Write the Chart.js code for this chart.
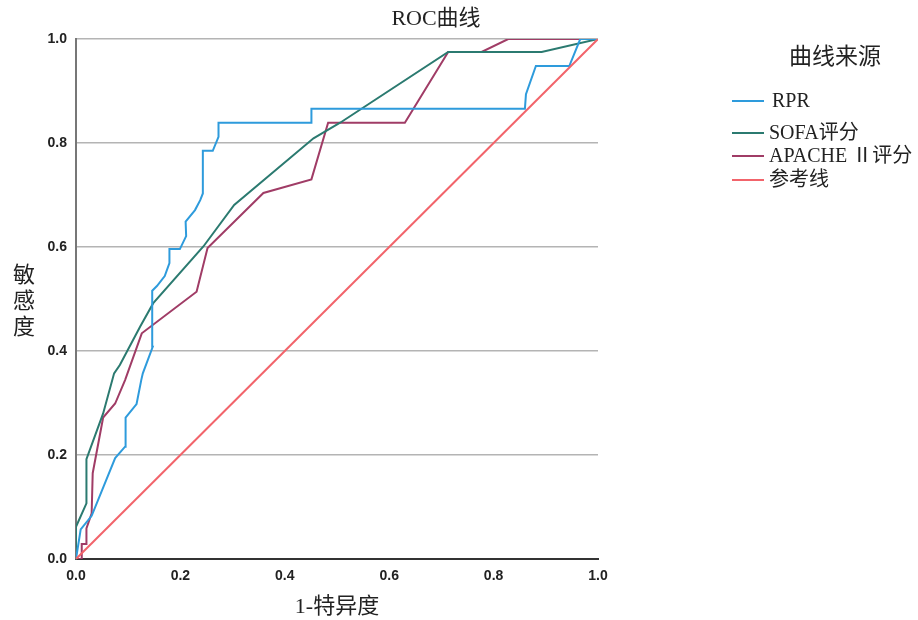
<!DOCTYPE html>
<html>
<head>
<meta charset="utf-8">
<script src="https://cdn.jsdelivr.net/npm/chart.js@4/dist/chart.umd.min.js"></script>
<style>
  body { margin: 0; background: #fff; }
  #wrap { width: 918px; height: 620px; }
</style>
</head>
<body>
<div id="wrap"><canvas id="roc" width="918" height="620"></canvas></div>
<script>
// ROC curve vertices (x = 1-特异度, y = 敏感度)
const rprX = [0, 0.009, 0.030, 0.075, 0.094, 0.095, 0.116, 0.125, 0.128, 0.147, 0.146, 0.155, 0.170, 0.179, 0.179, 0.199, 0.211, 0.210, 0.228, 0.238, 0.243, 0.243, 0.262, 0.273, 0.273, 0.451, 0.451, 0.860, 0.862, 0.881, 0.945, 0.966, 1];
const rprY = [0, 0.057, 0.083, 0.194, 0.216, 0.272, 0.298, 0.344, 0.357, 0.408, 0.516, 0.525, 0.544, 0.569, 0.596, 0.596, 0.621, 0.649, 0.671, 0.690, 0.703, 0.785, 0.785, 0.812, 0.839, 0.839, 0.866, 0.866, 0.894, 0.948, 0.948, 1, 1];

const sofaX = [0, 0, 0.020, 0.020, 0.052, 0.073, 0.084, 0.123, 0.148, 0.244, 0.303, 0.455, 0.506, 0.713, 0.892, 1];
const sofaY = [0, 0.062, 0.107, 0.192, 0.280, 0.357, 0.373, 0.447, 0.492, 0.601, 0.681, 0.809, 0.839, 0.975, 0.975, 1];

const apacheX = [0, 0.011, 0.011, 0.020, 0.020, 0.030, 0.032, 0.052, 0.075, 0.094, 0.126, 0.231, 0.252, 0.359, 0.451, 0.483, 0.630, 0.713, 0.777, 0.828, 1];
const apacheY = [0, 0, 0.029, 0.029, 0.059, 0.088, 0.165, 0.272, 0.299, 0.344, 0.434, 0.514, 0.598, 0.704, 0.730, 0.839, 0.839, 0.975, 0.975, 1, 1];

const refX = [0, 1];
const refY = [0, 1];

const seriesNames = ['RPR', 'SOFA评分', 'APACHE Ⅱ评分', '参考线'];
const seriesColors = ['#2e9bdc', '#2b7a70', '#a03c66', '#f2646b'];
const tickValues = [0, 0.2, 0.4, 0.6, 0.8, 1.0];

const serif = '"Liberation Serif", "Noto Sans CJK SC", serif';
const tickFont = { family: '"Liberation Sans", Arial, sans-serif', size: 14, weight: 'bold' };

function pts(xs, ys) {
  return xs.map((x, i) => ({ x, y: ys[i] }));
}

const series = [pts(rprX, rprY), pts(sofaX, sofaY), pts(apacheX, apacheY), pts(refX, refY)];

// titles, stacked y title and the legend drawn on the canvas
const textPlugin = {
  id: 'textPlugin',
  afterDraw(chart) {
    const ctx = chart.ctx;
    const area = chart.chartArea;
    ctx.save();
    ctx.fillStyle = '#222';
    ctx.textBaseline = 'middle';

    ctx.textAlign = 'center';
    ctx.font = '22px ' + serif;
    ctx.fillText('ROC曲线', 436, 19);
    ctx.fillText('1-特异度', (area.left + area.right) / 2, 607);
    ['敏', '感', '度'].forEach((ch, i) => ctx.fillText(ch, 24, 276 + i * 26));

    ctx.font = '23px ' + serif;
    ctx.fillText('曲线来源', 835, 58);

    const rows = [101, 133, 156, 180];
    ctx.textAlign = 'left';
    ctx.font = '20px ' + serif;
    chart.data.datasets.forEach((ds, i) => {
      ctx.strokeStyle = ds.borderColor;
      ctx.lineWidth = 2;
      ctx.beginPath();
      ctx.moveTo(732, rows[i]);
      ctx.lineTo(764, rows[i]);
      ctx.stroke();
      ctx.fillText(ds.label, i === 0 ? 772 : 769, rows[i] + 1);
    });
    ctx.restore();
  }
};

new Chart(document.getElementById('roc'), {
  type: 'scatter',
  data: {
    datasets: series.map((data, i) => ({
      label: seriesNames[i],
      data,
      showLine: true,
      borderColor: seriesColors[i],
      backgroundColor: seriesColors[i],
      borderWidth: 2,
      pointRadius: 0,
      tension: 0,
      order: i === 3 ? 0 : 1
    }))
  },
  options: {
    responsive: false,
    animation: false,
    layout: { padding: { top: 39, right: 320, left: 0, bottom: 0 } },
    plugins: { legend: { display: false }, tooltip: { enabled: false } },
    scales: {
      x: {
        type: 'linear', min: 0, max: 1,
        afterBuildTicks: s => { s.ticks = tickValues.map(v => ({ value: v })); },
        afterFit: s => { s.height = 61; },
        grid: { display: false, drawTicks: false },
        border: { color: '#333', width: 2 },
        ticks: { padding: 9, color: '#222', font: tickFont, callback: v => v.toFixed(1) }
      },
      y: {
        type: 'linear', min: 0, max: 1,
        afterBuildTicks: s => { s.ticks = tickValues.map(v => ({ value: v })); },
        afterFit: s => { s.width = 76; },
        grid: { color: '#b4b4b4', lineWidth: 1.5, drawTicks: false },
        border: { color: '#777', width: 2 },
        ticks: { padding: 9, color: '#222', font: tickFont, callback: v => v.toFixed(1) }
      }
    }
  },
  plugins: [textPlugin]
});
</script>
</body>
</html>
